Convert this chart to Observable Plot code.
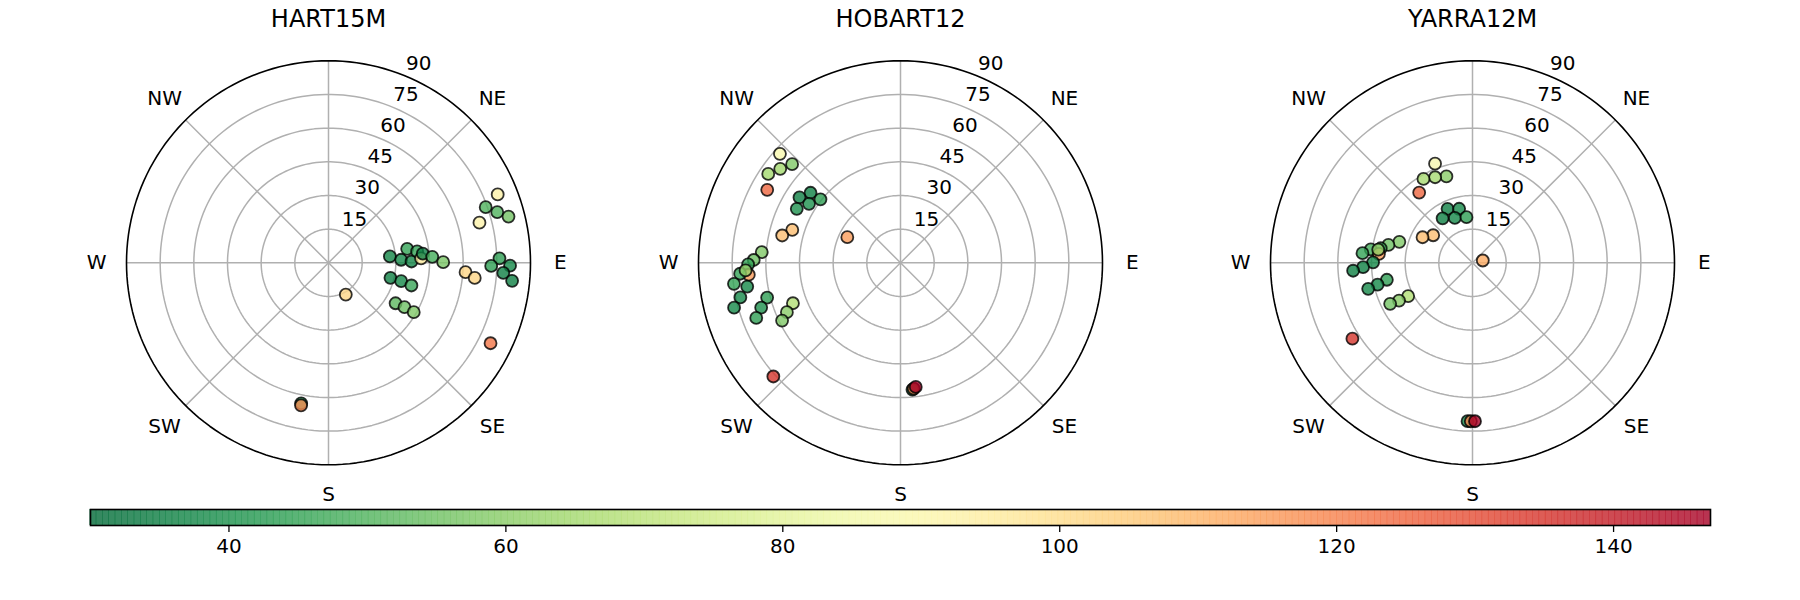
<!DOCTYPE html>
<html>
<head>
<meta charset="utf-8">
<script src="https://cdn.jsdelivr.net/npm/d3@7"></script>
<script src="https://cdn.jsdelivr.net/npm/@observablehq/plot@0.6"></script>
<style>
  body { margin: 0; background: #fff; }
  #wrap { position: relative; width: 1800px; height: 600px; font-family: "DejaVu Sans", sans-serif; background: #fff; }
  .panel { position: absolute; top: 0; }
  #cbar { position: absolute; left: 0; top: 490px; }
</style>
</head>
<body>
<div id="wrap"></div>
<script>
// ---------- data ----------
const stations = ["HART15M", "HOBART12", "YARRA12M"];

// HART15M: azimuth (deg, clockwise from N), radial value, colour value
const hartAz  = [68.0, 70.5, 73.3, 75.6, 75.1, 84.1, 87.6, 79.9, 89.1, 82.7, 87.3, 84.5, 86.7, 89.7,
                 103.6, 104.2, 105.3, 121.1, 120.3, 120.1, 93.9, 95.9, 88.5, 91.1, 90.9, 93.3, 95.6,
                 116.4, 151.4, 191.0, 190.9];
const hartR   = [81.3, 74.3, 78.5, 82.8, 69.6, 27.5, 32.4, 35.6, 37.0, 39.8, 41.3, 42.2, 46.3, 51.1,
                 28.4, 33.4, 38.3, 34.9, 39.2, 43.9, 61.2, 65.5, 76.2, 72.5, 80.9, 78.0, 82.2,
                 80.6, 16.1, 63.8, 64.7];
const hartVal = [93, 50, 50, 56, 92, 37, 38, 45, 37, 45, 95, 36, 48, 57,
                 36, 38, 46, 52, 55, 58, 102, 102, 44, 44, 38, 36, 36,
                 122, 102, 40, 118];

// HOBART12
const hobAz  = [312.1, 312.3, 308.0, 303.9, 298.7, 307.9, 302.9, 308.4, 302.8, 297.5, 286.9, 283.0, 295.7,
                274.4, 271.1, 269.4, 265.5, 266.1, 267.2, 262.8, 261.2, 257.8, 254.9, 255.4, 252.2, 249.1,
                249.4, 246.5, 244.0, 228.2, 174.6, 174.0, 173.0];
const hobR   = [72.4, 65.3, 68.0, 71.0, 67.7, 50.8, 53.6, 45.5, 48.5, 52.1, 50.4, 54.1, 26.3,
                62.0, 65.4, 67.9, 67.8, 71.6, 69.1, 74.8, 69.1, 73.0, 76.8, 61.4, 65.2, 68.8,
                51.2, 55.2, 58.7, 76.0, 56.8, 56.4, 55.7];
const hobVal = [88, 58, 65, 65, 125, 36, 36, 44, 40, 40, 108, 108, 115,
                58, 55, 45, 115, 45, 62, 45, 38, 38, 38, 44, 40, 44,
                68, 60, 58, 135, 40, 120, 147];

// YARRA12M
const yarAz  = [339.3, 343.2, 336.4, 329.7, 322.8, 335.2, 346.1, 326.1, 338.5, 352.5, 305.0, 297.1, 77.4,
                286.0, 282.0, 279.0, 277.5, 275.4, 275.0, 278.0, 270.3, 267.7, 266.2, 258.8, 257.0, 256.0,
                242.6, 242.8, 243.5, 237.7, 181.8, 180.6, 179.1];
const yarR   = [47.2, 40.2, 41.6, 43.3, 39.3, 26.5, 24.8, 23.9, 21.5, 20.5, 21.4, 25.0, 4.7,
                33.9, 38.3, 41.4, 45.7, 41.9, 49.2, 42.4, 44.3, 48.8, 53.3, 38.9, 43.4, 47.9,
                32.3, 36.8, 41.0, 63.3, 70.6, 70.6, 70.6];
const yarVal = [88, 60, 66, 66, 125, 36, 38, 36, 38, 44, 108, 108, 112,
                58, 55, 46, 48, 115, 45, 62, 38, 36, 36, 44, 38, 38,
                68, 60, 56, 135, 38, 120, 147];

const ringValues   = [15, 30, 45, 60, 75];
const spokeAz      = [0, 45, 90, 135, 180, 225, 270, 315];
const compassAz    = [45, 90, 135, 180, 225, 270, 315];
const compassLabel = ["NE", "E", "SE", "S", "SW", "W", "NW"];
const radialTicks  = [15, 30, 45, 60, 75, 90];
const colorTicks   = [40, 60, 80, 100, 120, 140];
const colorDomain  = [30, 147];

// ---------- drawing ----------
const FONT = "DejaVu Sans";
const colorScale = {type: "linear", scheme: "RdYlGn", reverse: true, domain: colorDomain};

function panel(name, az, r, v) {
  const W = 572, H = 500, cx = 286, cy = 262.3, R = 202;
  const proj = d3.geoAzimuthalEquidistant()
    .rotate([0, -90])
    .reflectY(true)
    .scale(R / (Math.PI / 2))
    .translate([cx, cy])
    .clipAngle(179.9);
  const pts = az.map((a, i) => ({az: a, r: r[i], v: v[i]}));
  const circle = d => d3.geoCircle().center([0, 90]).radius(d)();
  return Plot.plot({
    width: W, height: H, margin: 0,
    projection: proj,
    color: colorScale,
    style: {fontFamily: FONT, background: "white", overflow: "visible"},
    marks: [
      Plot.geo(ringValues, {geometry: circle, fill: "none", stroke: "#b0b0b0", strokeWidth: 1.5}),
      Plot.link(spokeAz, {x1: d => d, y1: 90, x2: d => d, y2: 0, stroke: "#b0b0b0", strokeWidth: 1.5}),
      Plot.geo([90], {geometry: circle, fill: "none", stroke: "black", strokeWidth: 1.6}),
      Plot.dot(pts, {x: "az", y: d => 90 - d.r, r: 6.0, fill: "v", fillOpacity: 0.8,
                     stroke: "black", strokeOpacity: 0.8, strokeWidth: 1.8}),
      Plot.text(radialTicks, {x: 22.5, y: d => 90 - d, text: d => String(d), dx: 13, dy: -12.5,
                              fontSize: 20, fill: "black", lineAnchor: "middle"}),
      Plot.text(compassAz, {x: d => d, y: 90 - 103.3, text: (d, i) => compassLabel[i],
                            fontSize: 20, fill: "black", lineAnchor: "middle"}),
      Plot.text([name], {frameAnchor: "top", text: d => d, dy: 18.7, lineAnchor: "middle",
                         fontSize: 24, fill: "black"})
    ]
  });
}

const wrap = document.getElementById("wrap");
const centers = [328.3, 900, 1471.8];
const sets = [[hartAz, hartR, hartVal], [hobAz, hobR, hobVal], [yarAz, yarR, yarVal]];
stations.forEach((name, k) => {
  const el = panel(name, ...sets[k]);
  const div = document.createElement("div");
  div.className = "panel";
  div.style.left = (centers[k] - 286) + "px";
  div.appendChild(el);
  wrap.appendChild(div);
});

// colorbar
const nCells = 256;
const step = (colorDomain[1] - colorDomain[0]) / nCells;
const cells = d3.range(nCells).map(i => colorDomain[0] + i * step);
const cbar = Plot.plot({
  width: 1800, height: 110,
  marginLeft: 90, marginRight: 90, marginTop: 19, marginBottom: 75,
  x: {domain: colorDomain},
  color: colorScale,
  style: {fontFamily: FONT, fontSize: "20px", background: "transparent", overflow: "visible"},
  marks: [
    Plot.rect(cells, {x1: d => d, x2: d => d + step, fill: d => d + step / 2, fillOpacity: 0.8, insetLeft: -0.6}),
    Plot.frame({stroke: "black", strokeWidth: 1.6}),
    Plot.axisX(colorTicks, {tickSize: 7, tickPadding: 6, fontSize: 20, strokeWidth: 1.3, label: null})
  ]
});
const cdiv = document.createElement("div");
cdiv.id = "cbar";
cdiv.appendChild(cbar);
wrap.appendChild(cdiv);
</script>
</body>
</html>
